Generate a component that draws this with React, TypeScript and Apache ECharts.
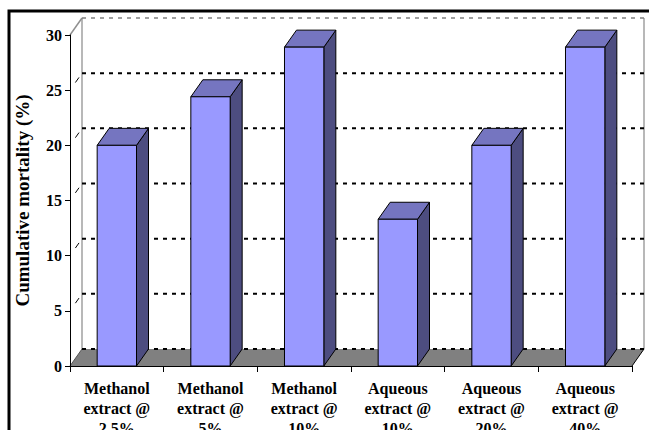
import { useEffect, useRef } from "react";
import * as echarts from "echarts";

const categories = [
  "Methanol\nextract @\n2.5%",
  "Methanol\nextract @\n5%",
  "Methanol\nextract @\n10%",
  "Aqueous\nextract @\n10%",
  "Aqueous\nextract @\n20%",
  "Aqueous\nextract @\n40%",
];
const mortality = [20, 24.4, 28.9, 13.3, 20, 28.9];
const gridValues = [0, 5, 10, 15, 20, 25, 30];
const yMin = 0;
const yMax = 30;
const yStep = 5;

const DX = 12;
const DY = -17;
const FONT = '"Liberation Serif", "Times New Roman", serif';

export default function App() {
  const ref = useRef<HTMLDivElement>(null);
  useEffect(() => {
    const chart = echarts.init(ref.current!, null, { renderer: "svg" });
    const option: any = {
      animation: false,
      backgroundColor: "#ffffff",
      grid: {
        left: 70,
        top: 35,
        width: 562,
        height: 331,
        containLabel: false,
        outerBoundsMode: "none",
      },
      xAxis: {
        type: "category",
        data: categories,
        boundaryGap: true,
        z: 10,
        axisLine: { show: true, lineStyle: { color: "#000", width: 1 } },
        axisTick: { show: true, length: 6, interval: 0, lineStyle: { color: "#000" } },
        axisLabel: {
          interval: 0,
          margin: 12,
          fontFamily: FONT,
          fontWeight: "bold",
          fontSize: 16,
          lineHeight: 20,
          color: "#000",
        },
        splitLine: { show: false },
      },
      yAxis: {
        type: "value",
        min: yMin,
        max: yMax,
        interval: yStep,
        z: 10,
        name: "Cumulative mortality (%)",
        nameLocation: "middle",
        nameGap: 38,
        nameTextStyle: {
          fontFamily: FONT,
          fontWeight: "bold",
          fontSize: 19,
          color: "#000",
        },
        axisLine: { show: true, lineStyle: { color: "#000", width: 1 } },
        axisTick: { show: true, length: 5, lineStyle: { color: "#000" } },
        axisLabel: {
          margin: 8,
          fontFamily: FONT,
          fontWeight: "bold",
          fontSize: 16,
          color: "#000",
        },
        splitLine: { show: false },
      },
      graphic: [
        {
          type: "rect",
          z: 100,
          shape: { x: 9, y: 11, width: 700, height: 500 },
          style: { fill: "none", stroke: "#000", lineWidth: 3 },
        },
      ],
      series: [
        {
          type: "custom",
          z: 1,
          silent: true,
          data: gridValues.map((v) => [0, v]),
          renderItem: (params: any, api: any) => {
            const cs = params.coordSys;
            const v = api.value(1);
            const y = api.coord([0, v])[1];
            const x0 = cs.x;
            const x1 = cs.x + cs.width;
            const yt = cs.y;
            const yb = cs.y + cs.height;
            const children: any[] = [];
            if (params.dataIndex === 0) {
              children.push({
                type: "polygon",
                shape: { points: [[x0, yb], [x1, yb], [x1 + DX, yb + DY], [x0 + DX, yb + DY]] },
                style: { fill: "#808080", stroke: "none" },
              });
              children.push({
                type: "line",
                shape: { x1: x0 + DX, y1: yt + DY, x2: x0 + DX, y2: yb + DY },
                style: { stroke: "#a0a0a0", lineWidth: 1.5 },
              });
              children.push({
                type: "line",
                shape: { x1: x1 + DX, y1: yt + DY, x2: x1 + DX, y2: yb + DY },
                style: { stroke: "#a0a0a0", lineWidth: 1.5 },
              });
              children.push({
                type: "line",
                shape: { x1: x0, y1: yt, x2: x0 + DX, y2: yt + DY },
                style: { stroke: "#909090", lineWidth: 1.5 },
              });
              children.push({
                type: "line",
                shape: { x1: x1, y1: yb, x2: x1 + DX, y2: yb + DY },
                style: { stroke: "#000", lineWidth: 1 },
              });
              children.push({
                type: "line",
                shape: { x1: x0, y1: yb, x2: x0 + DX, y2: yb + DY },
                style: { stroke: "#555", lineWidth: 1 },
              });
            }
            const isTop = v === yMax;
            children.push({
              type: "line",
              shape: { x1: x0 + DX, y1: y + DY, x2: x1 + DX, y2: y + DY },
              style: {
                stroke: isTop ? "#808080" : "#000",
                lineWidth: isTop ? 1.5 : 2,
                lineDash: [4, 5],
              },
            });
            if (v > yMin && !isTop) {
              children.push({
                type: "line",
                shape: {
                  x1: x0 + DX * 0.45,
                  y1: y + DY * 0.45,
                  x2: x0 + DX * 0.75,
                  y2: y + DY * 0.75,
                },
                style: { stroke: "#000", lineWidth: 1 },
              });
            }
            return { type: "group", children };
          },
        },
        {
          type: "custom",
          z: 2,
          silent: true,
          data: mortality.map((v, i) => [i, v]),
          renderItem: (params: any, api: any) => {
            const idx = api.value(0);
            const v = api.value(1);
            const top = api.coord([idx, v]);
            const bot = api.coord([idx, 0]);
            const w = api.size([1, 0])[0] * 0.42;
            const l = top[0] - w / 2;
            const r = top[0] + w / 2;
            const yt = top[1];
            const yb = bot[1];
            return {
              type: "group",
              children: [
                {
                  type: "polygon",
                  shape: { points: [[r, yt], [r + DX, yt + DY], [r + DX, yb + DY], [r, yb]] },
                  style: { fill: "#4d4d80", stroke: "#000", lineWidth: 1 },
                },
                {
                  type: "polygon",
                  shape: { points: [[l, yt], [l + DX, yt + DY], [r + DX, yt + DY], [r, yt]] },
                  style: { fill: "#7575c0", stroke: "#000", lineWidth: 1 },
                },
                {
                  type: "rect",
                  shape: { x: l, y: yt, width: w, height: yb - yt },
                  style: { fill: "#9999ff", stroke: "#000", lineWidth: 1 },
                },
              ],
            };
          },
        },
      ],
    };
    chart.setOption(option);
    return () => chart.dispose();
  }, []);
  return (
    <div
      ref={ref}
      style={{ position: "absolute", left: 0, top: 0, width: 649, height: 430 }}
    />
  );
}
